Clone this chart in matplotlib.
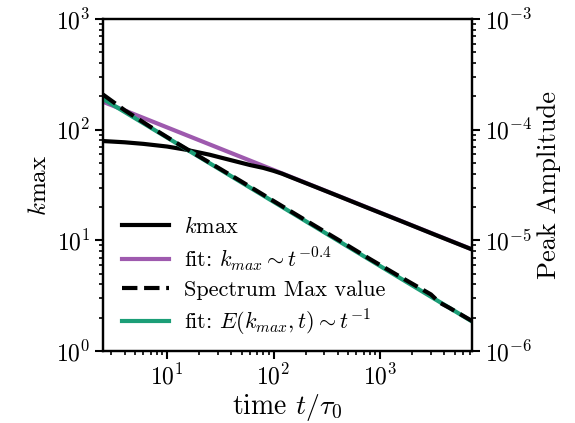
import numpy as np
import matplotlib
matplotlib.use('Agg')
import matplotlib.pyplot as plt

plt.rcParams['font.family'] = 'serif'
plt.rcParams['font.serif'] = ['cmr10', 'DejaVu Serif']
plt.rcParams['mathtext.fontset'] = 'cm'
plt.rcParams['axes.formatter.use_mathtext'] = True
plt.rcParams['font.size'] = 16
plt.rcParams['xtick.labelsize'] = 17
plt.rcParams['ytick.labelsize'] = 17
plt.rcParams['axes.linewidth'] = 1.6

# data
t_kmax = [2.5, 4, 6, 10, 15, 25, 40, 60, 80, 100, 120, 150, 250, 400, 800, 1600, 3200, 7300]
kmax = [79, 77, 74.5, 70.5, 66, 59.5, 53, 48, 45.2, 42.5, 40.1, 36.8, 30.3, 25.3,
        19.35, 14.85, 11.35, 8.28]

t_kfit = [2.5, 7300]
kfit = [179, 8.3]

t_peak = [2.5, 4, 7, 12, 25, 50, 100, 200, 400, 800, 1600, 3000, 3600, 4500, 7300]
peak = [2.08e-4, 1.5e-4, 1.06e-4, 7.7e-5, 5.05e-5, 3.4e-5, 2.27e-5, 1.52e-5,
        1.02e-5, 6.8e-6, 4.6e-6, 3.25e-6, 2.75e-6, 2.45e-6, 1.87e-6]

t_pfit = [2.5, 7300]
pfit = [1.9e-4, 1.85e-6]

purple = '#9e5aae'
green = '#1b9e77'

fig = plt.figure(figsize=(5.75, 4.23), dpi=100)
ax = fig.add_axes([0.179, 0.170, 0.642, 0.785])
ax2 = ax.twinx()

l2, = ax.plot(t_kfit, kfit, color=purple, lw=3, label=r'fit: $k_{max} \sim t^{-0.4}$')
l1, = ax.plot(t_kmax, kmax, color='black', lw=3, label=r'$k$max')
l4, = ax2.plot(t_pfit, pfit, color=green, lw=3, label=r'fit: $E(k_{max},t) \sim t^{-1}$')
l3, = ax2.plot(t_peak, peak, color='black', lw=3, ls='--', label='Spectrum Max value')

ax.set_xscale('log')
ax.set_yscale('log')
ax2.set_yscale('log')
ax.set_xlim(2.5, 7300)
ax.set_ylim(1, 1000)
ax2.set_ylim(1e-6, 1e-3)

ax.set_xlabel(r'time $t/\tau_0$', fontsize=20, labelpad=2)
ax.set_ylabel(r'$k$max', fontsize=18)
ax2.set_ylabel('Peak Amplitude', fontsize=19)

for a in (ax, ax2):
    a.tick_params(which='major', length=5.5, width=1.5)
    a.tick_params(which='minor', length=3, width=1.2)

ax.legend(handles=[l1, l2, l3, l4], loc='lower left', frameon=False,
          handlelength=2.1, handletextpad=0.7, labelspacing=0.35,
          borderaxespad=0.2, bbox_to_anchor=(0.016, 0.0))

fig.savefig('out.png', dpi=100)
